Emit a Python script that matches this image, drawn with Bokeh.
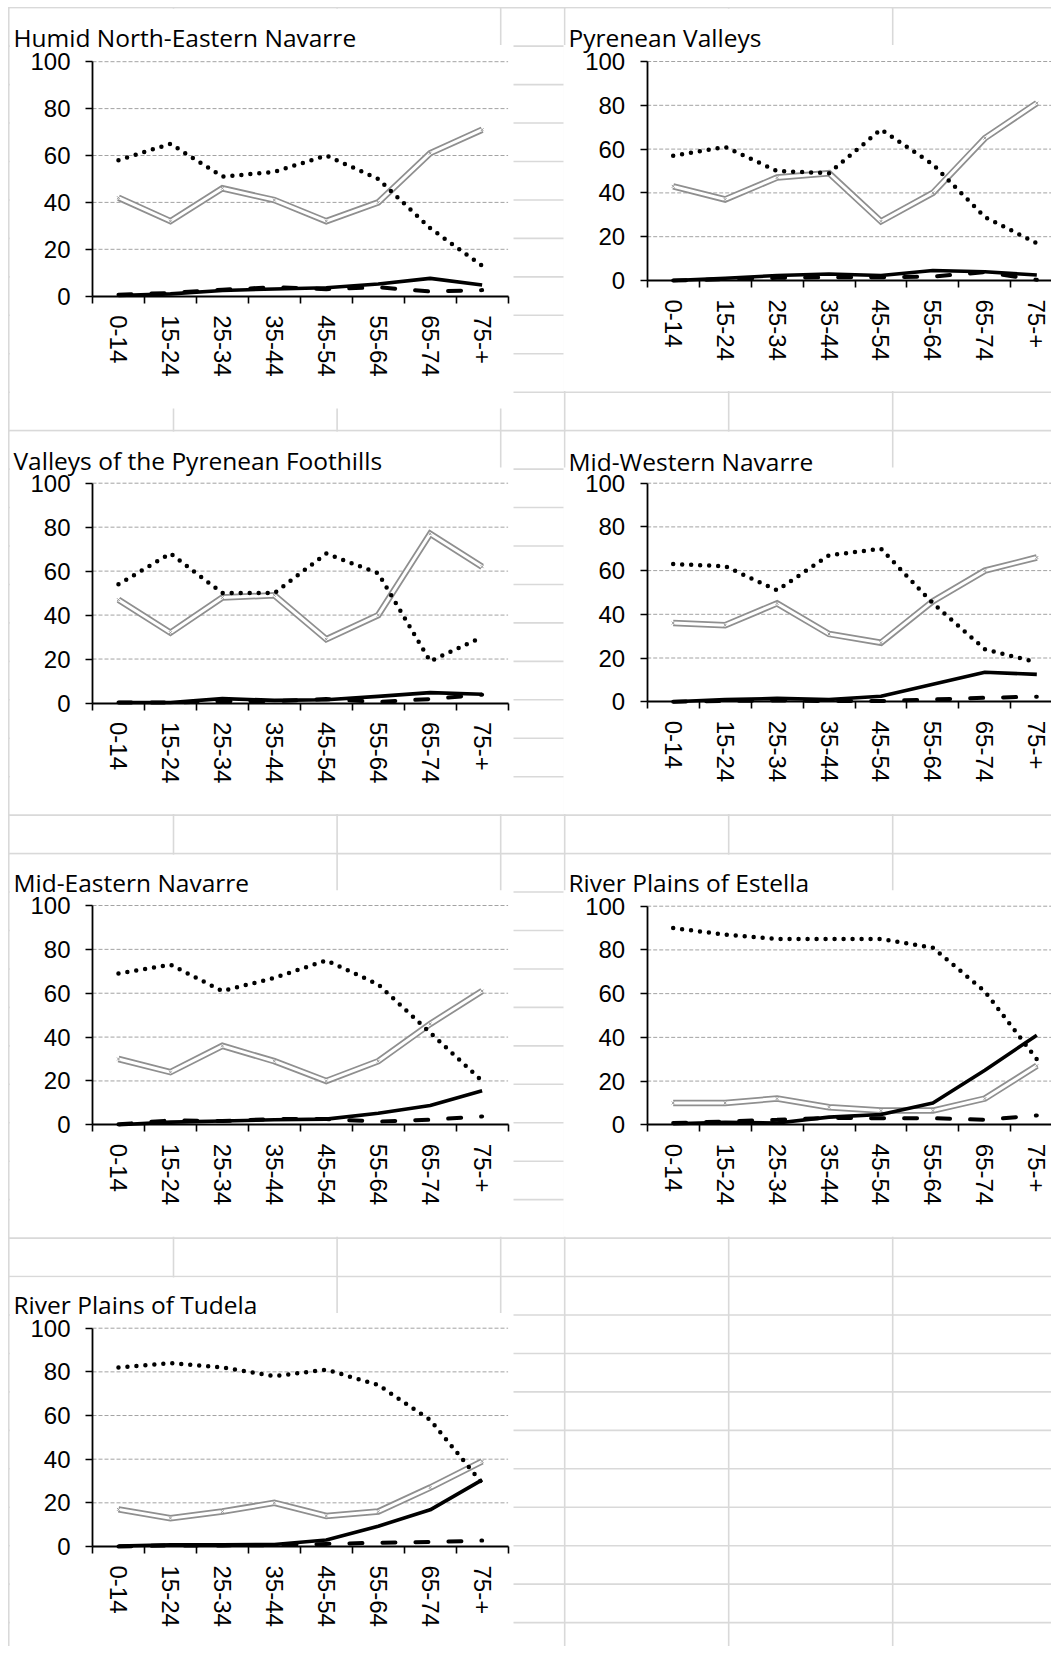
from bokeh.plotting import figure
from bokeh.models import Range1d, LinearAxis, FixedTicker
from bokeh.core.properties import value
from bokeh.embed import file_html
from bokeh.resources import INLINE

# ---------------- data ----------------
age_groups = ["0-14", "15-24", "25-34", "35-44", "45-54", "55-64", "65-74", "75-+"]
y_ticks = [0, 20, 40, 60, 80, 100]

region_titles = [
    "Humid North-Eastern Navarre",
    "Pyrenean Valleys",
    "Valleys of the Pyrenean Foothills",
    "Mid-Western Navarre",
    "Mid-Eastern Navarre",
    "River Plains of Estella",
    "River Plains of Tudela",
]

humid_dotted = [58, 65, 51, 53, 60, 50, 29, 13]
humid_double = [42, 32, 46, 41, 32, 40, 61, 71]
humid_solid = [0.3, 1.0, 2.4, 3.1, 3.6, 5.2, 7.6, 4.8]
humid_dashed = [0.6, 1.4, 2.8, 3.8, 3.0, 3.8, 2.0, 2.6]

pyrenean_dotted = [57, 61, 50, 49, 69, 53, 29, 17]
pyrenean_double = [43, 37, 47, 49, 27, 40, 65, 81]
pyrenean_solid = [0.0, 1.0, 2.3, 3.0, 2.3, 4.6, 4.0, 2.5]
pyrenean_dashed = [0.0, 0.6, 1.2, 1.5, 1.5, 1.8, 3.8, 0.3]

foothills_dotted = [54, 68, 50, 50, 68, 59, 19, 30]
foothills_double = [47, 32, 48, 49, 29, 40, 77, 62]
foothills_solid = [0.2, 0.2, 2.0, 1.2, 1.5, 3.0, 4.7, 4.0]
foothills_dashed = [0.2, 0.2, 0.8, 0.8, 1.8, 0.5, 1.8, 3.8]

midwest_dotted = [63, 62, 51, 67, 70, 45, 24, 18]
midwest_double = [36, 35, 45, 31, 27, 46, 60, 66]
midwest_solid = [0.0, 1.0, 1.5, 1.0, 2.5, 8.0, 13.5, 12.5]
midwest_dashed = [0.0, 0.3, 0.6, 0.3, 0.3, 1.0, 1.8, 2.3]

mideast_dotted = [69, 73, 61, 67, 75, 64, 42, 20]
mideast_double = [30, 24, 36, 29, 20, 29, 46, 61]
mideast_solid = [0.0, 1.2, 1.7, 2.3, 2.6, 5.3, 8.8, 15.5]
mideast_dashed = [0.2, 2.0, 1.7, 2.6, 2.6, 1.5, 2.3, 3.8]

estella_dotted = [90, 87, 85, 85, 85, 81, 61, 30]
estella_double = [10, 10, 12, 8, 6.5, 6.5, 12, 27]
estella_solid = [0.5, 1.2, 0.8, 3.5, 4.7, 10, 25, 41]
estella_dashed = [0.8, 1.5, 2.3, 3.2, 3.0, 3.0, 2.3, 4.3]

tudela_dotted = [82, 84, 82, 78, 81, 74, 58, 29]
tudela_double = [17, 13, 16, 20, 14, 16, 27, 39]
tudela_solid = [0.2, 0.8, 0.8, 0.9, 3.0, 9.3, 16.8, 30.5]
tudela_dashed = [0.0, 0.5, 0.5, 0.6, 1.2, 1.7, 2.1, 2.7]

series = [
    (humid_dotted, humid_double, humid_solid, humid_dashed),
    (pyrenean_dotted, pyrenean_double, pyrenean_solid, pyrenean_dashed),
    (foothills_dotted, foothills_double, foothills_solid, foothills_dashed),
    (midwest_dotted, midwest_double, midwest_solid, midwest_dashed),
    (mideast_dotted, mideast_double, mideast_solid, mideast_dashed),
    (estella_dotted, estella_double, estella_solid, estella_dashed),
    (tudela_dotted, tudela_double, tudela_solid, tudela_dashed),
]

# ---------------- layout (canvas pixels) ----------------
FIG_W, FIG_H = 1051, 1646
CW = 51.95  # category width in px

# L: y-axis x, T: y of 100, B: y of 0, chart rect, title-cell cover rect, title anchor
panel_layout = [
    dict(L=92.0, T=61.2, B=295.7, chart=(9.4, 513, 44.4, 408), cover=(9.4, 498.8, 8.3, 44.3), tpos=(13, 37)),
    dict(L=646.7, T=61.0, B=280.0, chart=(563, FIG_W + 5, 44.4, 390.4), cover=(565.3, 890.8, 8.3, 44.3), tpos=(568, 37)),
    dict(L=92.0, T=482.7, B=702.5, chart=(9.4, 513, 467.0, 813.4), cover=(9.4, 498.8, 431.2, 467.5), tpos=(13, 460)),
    dict(L=646.7, T=482.7, B=701.2, chart=(563, FIG_W + 5, 467.0, 813.4), cover=(565.3, 890.8, 431.2, 467.5), tpos=(568, 460.5)),
    dict(L=92.0, T=905.0, B=1124.3, chart=(9.4, 513, 889.8, 1236.2), cover=(9.4, 335.3, 854.2, 890.0), tpos=(13, 881.5)),
    dict(L=646.7, T=905.7, B=1124.3, chart=(563, FIG_W + 5, 889.8, 1236.2), cover=(565.3, 890.8, 854.2, 890.0), tpos=(568, 881.5)),
    dict(L=92.0, T=1327.7, B=1546.0, chart=(9.4, 513, 1312.6, FIG_H + 5), cover=(9.4, 335.3, 1277.1, 1313.0), tpos=(13, 1304)),
]

sheet_cols = [8.3, 173.0, 336.6, 500.2, 564.2, 728.2, 892.2]
ROW_H = 38.45
sheet_rows = [7.2 + ROW_H * k for k in range(43)]

p = figure(width=FIG_W, height=FIG_H,
           x_range=Range1d(0, FIG_W), y_range=Range1d(FIG_H, 0),
           x_axis_type=None, y_axis_type=None, tools="",
           toolbar_location=None, output_backend="svg", min_border=0)
p.outline_line_color = None
p.background_fill_color = "white"
p.border_fill_color = "white"

GRID_SHEET = "#d9d9d9"
# spreadsheet cell grid
p.segment(x0=sheet_cols, x1=sheet_cols, y0=[6.5] * len(sheet_cols), y1=[FIG_H] * len(sheet_cols),
          line_color=GRID_SHEET, line_width=1.6)
p.segment(x0=[7.5] * len(sheet_rows), x1=[FIG_W] * len(sheet_rows), y0=sheet_rows, y1=sheet_rows,
          line_color=GRID_SHEET, line_width=1.6)

# title cells (overflowing text hides inner cell borders) and chart areas
p.quad(left=[lay["cover"][0] for lay in panel_layout], right=[lay["cover"][1] for lay in panel_layout],
       top=[lay["cover"][2] for lay in panel_layout], bottom=[lay["cover"][3] for lay in panel_layout],
       fill_color="white", line_color=None)
p.quad(left=[lay["chart"][0] for lay in panel_layout], right=[lay["chart"][1] for lay in panel_layout],
       top=[lay["chart"][2] for lay in panel_layout], bottom=[lay["chart"][3] for lay in panel_layout],
       fill_color="white", line_color=None)

p.text(x=[lay["tpos"][0] for lay in panel_layout], y=[lay["tpos"][1] for lay in panel_layout],
       text=region_titles, text_font=value("Open Sans"), text_font_size="24.5px",
       text_color="black", text_baseline="alphabetic", text_align="left")

n_cat = len(age_groups)
xs = [i + 0.5 for i in range(n_cat)]
boundaries = list(range(n_cat + 1))

for k, (lay, (dotted, double, solid, dashed)) in enumerate(zip(panel_layout, series)):
    L, T, B = lay["L"], lay["T"], lay["B"]
    s = (B - T) / 100.0
    xn, yn = f"x{k}", f"y{k}"
    p.extra_x_ranges[xn] = Range1d(-L / CW, (FIG_W - L) / CW)
    p.extra_y_ranges[yn] = Range1d((B - FIG_H) / s, B / s)
    kw = dict(x_range_name=xn, y_range_name=yn)

    # horizontal dashed gridlines
    gl = y_ticks[1:]
    p.segment(x0=[0] * len(gl), x1=[n_cat] * len(gl), y0=gl, y1=gl,
              line_color="#a3a3a3", line_width=1, line_dash="4 2", **kw)

    # series
    p.line(xs, double, line_color="#8f8f8f", line_width=6.5, line_join="miter", **kw)
    p.line(xs, double, line_color="white", line_width=3, line_join="miter", **kw)
    p.scatter(xs, double, marker="x", size=4, line_color="#9a9a9a", line_width=1, **kw)
    p.line(xs, solid, line_color="black", line_width=3.6, line_join="round", **kw)
    p.line(xs, dashed, line_color="black", line_width=4, line_dash="13 20", line_cap="round", **kw)
    p.line(xs, dotted, line_color="black", line_width=4.5, line_dash="0 9", line_cap="round", **kw)

    # y axis
    yax = LinearAxis(fixed_location=0, bounds=(0, 100), ticker=FixedTicker(ticks=y_ticks), **kw)
    yax.axis_line_color = "black"
    yax.axis_line_width = 1.8
    yax.major_tick_line_color = "black"
    yax.major_tick_line_width = 1.6
    yax.major_tick_out = 7
    yax.major_tick_in = 0
    yax.minor_tick_out = 0
    yax.minor_tick_in = 0
    yax.major_label_standoff = 15
    yax.major_label_text_font = "Liberation Sans"
    yax.major_label_text_font_size = "24px"
    yax.major_label_text_color = "black"
    p.add_layout(yax, "left")

    # x axis: labels at category centres, tick marks between categories
    xax = LinearAxis(fixed_location=0, bounds=(0, n_cat),
                     ticker=FixedTicker(ticks=xs, minor_ticks=boundaries), **kw)
    xax.major_label_overrides = {x: lab for x, lab in zip(xs, age_groups)}
    xax.axis_line_color = "black"
    xax.axis_line_width = 1.8
    xax.major_tick_line_color = None
    xax.major_tick_out = 0
    xax.major_tick_in = 0
    xax.minor_tick_line_color = "black"
    xax.minor_tick_line_width = 1.6
    xax.minor_tick_out = 7
    xax.minor_tick_in = 0
    xax.major_label_orientation = "vertical"
    xax.major_label_standoff = 12
    xax.major_label_text_font = "Liberation Sans"
    xax.major_label_text_font_size = "24px"
    xax.major_label_text_color = "black"
    p.add_layout(xax, "below")

open("out.html", "w").write(file_html(p, INLINE))
